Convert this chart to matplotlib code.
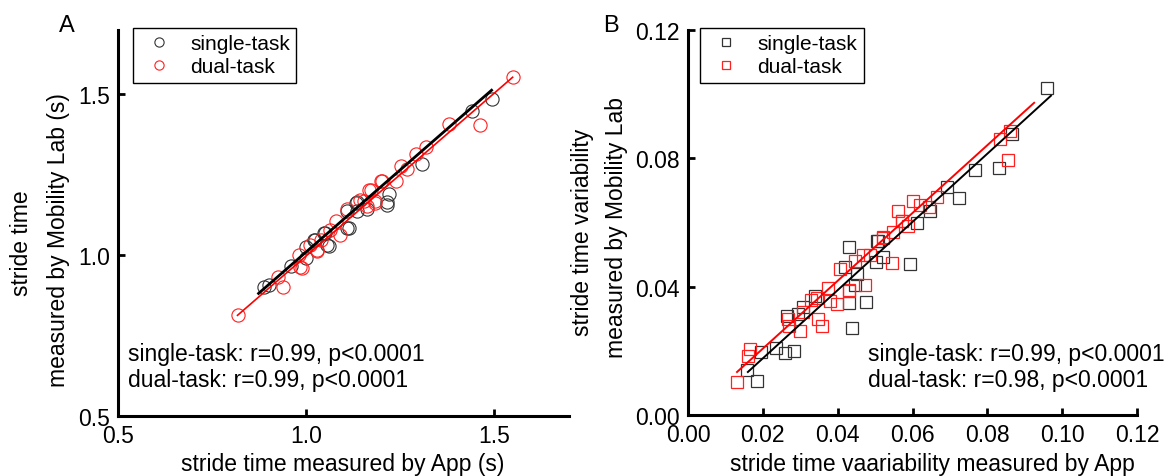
import numpy as np
import matplotlib
matplotlib.use("Agg")
import matplotlib.pyplot as plt

plt.rcParams['font.family'] = ['Liberation Sans', 'DejaVu Sans']

# Panel A: stride time (s), App vs Mobility Lab
a_single_x = [0.888, 0.901, 0.959, 0.999, 0.999, 1.021, 1.025, 1.047, 1.052, 1.056,
              1.061, 1.110, 1.110, 1.114, 1.132, 1.137, 1.137, 1.163, 1.215, 1.216,
              1.221, 1.310, 1.443, 1.496]
a_single_y = [0.902, 0.907, 0.965, 1.024, 0.991, 1.048, 1.048, 1.069, 1.069, 1.032,
              1.030, 1.084, 1.137, 1.084, 1.163, 1.166, 1.137, 1.142, 1.157, 1.166,
              1.191, 1.284, 1.449, 1.485]
a_dual_x = [0.818, 0.927, 0.939, 0.981, 0.985, 0.990, 1.012, 1.030, 1.030, 1.039,
            1.065, 1.079, 1.092, 1.110, 1.145, 1.154, 1.163, 1.168, 1.172, 1.184,
            1.185, 1.200, 1.203, 1.239, 1.252, 1.270, 1.292, 1.319, 1.381, 1.463,
            1.550]
a_dual_y = [0.813, 0.933, 0.902, 1.001, 0.962, 0.959, 1.032, 1.017, 1.012, 1.048,
            1.079, 1.105, 1.063, 1.142, 1.173, 1.168, 1.152, 1.204, 1.204, 1.163,
            1.168, 1.232, 1.230, 1.232, 1.277, 1.267, 1.316, 1.337, 1.407, 1.405,
            1.553]

# Panel B: stride time variability, App vs Mobility Lab
b_single_x = [0.0159, 0.0184, 0.0194, 0.0235, 0.0259, 0.0282, 0.0264, 0.0295, 0.0308,
              0.0340, 0.0420, 0.0431, 0.0431, 0.0439, 0.0447, 0.0451, 0.0476, 0.0503,
              0.0505, 0.0509, 0.0522, 0.0594, 0.0611, 0.0647, 0.0692, 0.0725, 0.0767,
              0.0830, 0.0866, 0.0960]
b_single_y = [0.0141, 0.0107, 0.0197, 0.0208, 0.0193, 0.0200, 0.0310, 0.0315, 0.0336,
              0.0370, 0.0460, 0.0523, 0.0349, 0.0270, 0.0405, 0.0440, 0.0351, 0.0478,
              0.0543, 0.0543, 0.0492, 0.0471, 0.0599, 0.0637, 0.0710, 0.0676, 0.0765,
              0.0771, 0.0876, 0.1020]
b_dual_x = [0.0132, 0.0161, 0.0166, 0.0268, 0.0270, 0.0298, 0.0308, 0.0328, 0.0344,
            0.0348, 0.0358, 0.0373, 0.0380, 0.0398, 0.0406, 0.0429, 0.0429, 0.0447,
            0.0469, 0.0473, 0.0487, 0.0521, 0.0522, 0.0545, 0.0549, 0.0562, 0.0571,
            0.0572, 0.0589, 0.0602, 0.0620, 0.0645, 0.0665, 0.0834, 0.0854, 0.0861]
b_dual_y = [0.0104, 0.0185, 0.0206, 0.0299, 0.0278, 0.0263, 0.0320, 0.0359, 0.0366,
            0.0299, 0.0278, 0.0395, 0.0356, 0.0346, 0.0455, 0.0391, 0.0388, 0.0481,
            0.0499, 0.0405, 0.0499, 0.0551, 0.0554, 0.0474, 0.0570, 0.0637, 0.0606,
            0.0606, 0.0590, 0.0668, 0.0653, 0.0648, 0.0679, 0.0861, 0.0796, 0.0886]

# linear fits as drawn in the figure: slope, intercept, x start, x end
a_single_fit = [1.019, -0.0096, 0.874, 1.494]
a_dual_fit = [1.011, -0.014, 0.818, 1.550]
b_single_fit = [1.063, -0.0036, 0.016, 0.097]
b_dual_fit = [1.0567, -0.00044, 0.0131, 0.0925]

a_ticks = [0.5, 1.0, 1.5]
b_xticks = [0.00, 0.02, 0.04, 0.06, 0.08, 0.10, 0.12]
b_yticks = [0.00, 0.04, 0.08, 0.12]
stats_a = ["single-task: r=0.99, p<0.0001", "dual-task: r=0.99, p<0.0001"]
stats_b = ["single-task: r=0.99, p<0.0001", "dual-task: r=0.98, p<0.0001"]

W, H = 1167, 477
fig = plt.figure(figsize=(W / 100, H / 100), dpi=100)


def px(x, y):
    # pixel position -> figure fraction
    return x / W, 1 - y / H


def style_axes(ax):
    for side in ['top', 'right']:
        ax.spines[side].set_visible(False)
    for side in ['left', 'bottom']:
        ax.spines[side].set_linewidth(2.2)
    ax.tick_params(direction='in', length=5, width=2, labelsize=16.5, pad=6)


def fit_line(ax, fit, color, lw):
    k, b, x0, x1 = fit
    xs = np.array([x0, x1])
    ax.plot(xs, k * xs + b, color=color, lw=lw, zorder=3)


def add_legend(ax, x0):
    leg = ax.legend(loc='upper left', bbox_to_anchor=(x0, 1.005), borderaxespad=0,
                    fontsize=15, markerscale=0.7, handlelength=1.9, handletextpad=0.55,
                    borderpad=0.3, labelspacing=0.2, fancybox=False, framealpha=1)
    leg.get_frame().set_edgecolor('black')
    leg.get_frame().set_linewidth(1.0)


# ---- Panel A ----
axA = fig.add_axes([118 / W, 1 - 417 / H, 451 / W, 386 / H])
style_axes(axA)
axA.plot(a_single_x, a_single_y, 'o', ms=9.5, mfc='none', mec='#333333', mew=0.8,
         label='single-task', zorder=2)
axA.plot(a_dual_x, a_dual_y, 'o', ms=9.5, mfc='none', mec='#ff2020', mew=0.8,
         label='dual-task', zorder=2)
fit_line(axA, a_single_fit, 'black', 2.0)
fit_line(axA, a_dual_fit, 'red', 1.2)
axA.set_xlim(0.5, 1.7)
axA.set_ylim(0.5, 1.7)
axA.set_xticks(a_ticks)
axA.set_yticks(a_ticks)
axA.set_xticklabels(['%.1f' % t for t in a_ticks])
axA.set_yticklabels(['%.1f' % t for t in a_ticks])
add_legend(axA, 0.033)

# ---- Panel B ----
axB = fig.add_axes([688 / W, 1 - 416 / H, 449 / W, 385 / H])
style_axes(axB)
axB.plot(b_single_x, b_single_y, 's', ms=8, mfc='none', mec='#333333', mew=0.9,
         label='single-task', zorder=2)
axB.plot(b_dual_x, b_dual_y, 's', ms=8, mfc='none', mec='#ff2020', mew=0.9,
         label='dual-task', zorder=2)
fit_line(axB, b_single_fit, 'black', 1.4)
fit_line(axB, b_dual_fit, 'red', 1.4)
axB.set_xlim(0, 0.12)
axB.set_ylim(0, 0.12)
axB.set_xticks(b_xticks)
axB.set_yticks(b_yticks)
axB.set_xticklabels(['%.2f' % t for t in b_xticks])
axB.set_yticklabels(['%.2f' % t for t in b_yticks])
add_legend(axB, 0.027)

# ---- texts ----
fig.text(*px(67, 26), 'A', fontsize=17, ha='center', va='center')
fig.text(*px(611, 26), 'B', fontsize=17, ha='center', va='center')

fig.text(*px(343, 465), 'stride time measured by App (s)', fontsize=16.5,
         ha='center', va='center')
fig.text(*px(932, 465), 'stride time vaariability measured by App', fontsize=16.5,
         ha='center', va='center')

fig.text(*px(22, 243), 'stride time', fontsize=16.5, rotation=90,
         ha='center', va='center')
fig.text(*px(59, 240), 'measured by Mobility Lab (s)', fontsize=16.5, rotation=90,
         ha='center', va='center')
fig.text(*px(583, 232), 'stride time variability', fontsize=16.5, rotation=90,
         ha='center', va='center')
fig.text(*px(616, 228), 'measured by Mobility Lab', fontsize=16.5, rotation=90,
         ha='center', va='center')

for i, s in enumerate(stats_a):
    fig.text(*px(128, 355 + 26 * i), s, fontsize=16.5, ha='left', va='center')
for i, s in enumerate(stats_b):
    fig.text(*px(868, 355 + 26 * i), s, fontsize=16.5, ha='left', va='center')

fig.savefig('out.png', dpi=100)
